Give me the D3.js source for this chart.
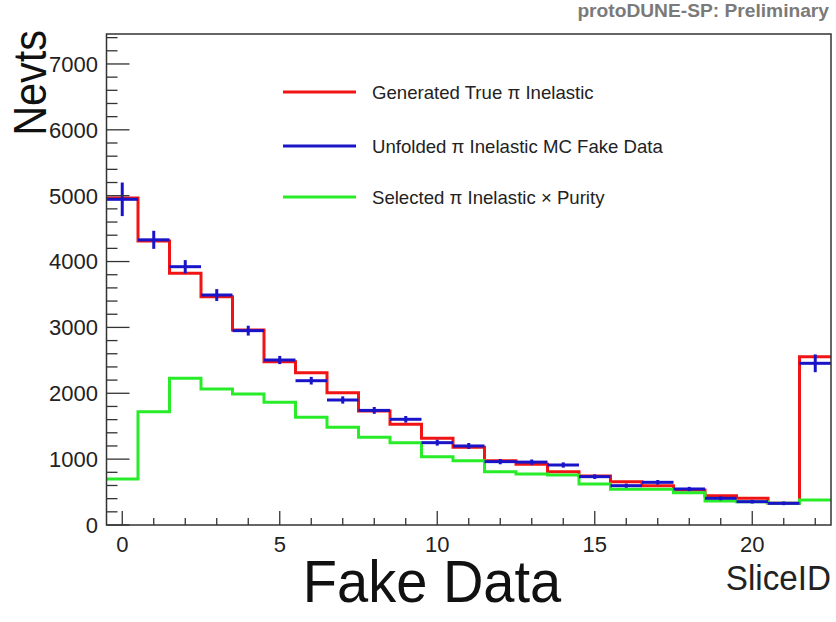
<!DOCTYPE html>
<meta charset="utf-8">
<script src="https://d3js.org/d3.v7.min.js"></script>
<style>
body { margin: 0; background: #fff; }
text { font-family: "Liberation Sans", Arial, Helvetica, sans-serif; }
</style>
<body>
<script>
// slice bins and histogram contents
var sliceID = [0, 1, 2, 3, 4, 5, 6, 7, 8, 9, 10, 11, 12, 13, 14, 15, 16, 17, 18, 19, 20, 21, 22];
var trueInel = [4965, 4312, 3822, 3467, 2961, 2480, 2313, 2009, 1731, 1529, 1316, 1180, 977, 922, 810, 744, 658, 597, 531, 445, 405, 329, 2556];
var unfolded = [4945, 4330, 3922, 3492, 2951, 2505, 2191, 1898, 1740, 1605, 1250, 1200, 962, 955, 911, 734, 597, 648, 547, 405, 354, 329, 2455];
var unfoldedErr = [255, 137, 100, 90, 75, 62, 58, 55, 52, 50, 45, 45, 40, 40, 40, 35, 32, 35, 32, 30, 28, 28, 135];
var selected = [698, 1721, 2227, 2065, 1989, 1863, 1635, 1483, 1331, 1250, 1037, 977, 809, 774, 759, 623, 542, 542, 491, 364, 354, 329, 380];

var legendLabels = ["Generated True \u03c0 Inelastic", "Unfolded \u03c0 Inelastic MC Fake Data", "Selected \u03c0 Inelastic \u00d7 Purity"];
var yTicks = [0, 1000, 2000, 3000, 4000, 5000, 6000, 7000];
var xTicks = [0, 5, 10, 15, 20];

var width = 836, height = 622;
var cRed = "#f01414", cBlue = "#1a14c8", cGreen = "#28ec28";

var svg = d3.select("body").append("svg")
    .attr("width", width)
    .attr("height", height);

var x = d3.scaleLinear().domain([-0.5, 22.5]).range([106.5, 831]);
var y = d3.scaleLinear().domain([0, 7455]).range([525, 34]);

// step outline for a histogram
function stepPath(vals) {
  var p = d3.path();
  vals.forEach(function(v, i) {
    var x0 = x(sliceID[i] - 0.5), x1 = x(sliceID[i] + 0.5);
    if (i == 0) p.moveTo(x0, y(v)); else p.lineTo(x0, y(v));
    p.lineTo(x1, y(v));
  });
  return p.toString();
}

svg.append("path").attr("d", stepPath(trueInel))
    .attr("fill", "none").attr("stroke", cRed).attr("stroke-width", 3);
svg.append("path").attr("d", stepPath(selected))
    .attr("fill", "none").attr("stroke", cGreen).attr("stroke-width", 3);

// unfolded points with error bars
var pts = svg.selectAll("g.pt").data(sliceID).enter().append("g").attr("class", "pt");
pts.append("line")
    .attr("x1", function(d) { return x(d - 0.5); })
    .attr("x2", function(d) { return x(d + 0.5); })
    .attr("y1", function(d, i) { return y(unfolded[i]); })
    .attr("y2", function(d, i) { return y(unfolded[i]); })
    .attr("stroke", cBlue).attr("stroke-width", 3);
pts.append("line")
    .attr("x1", function(d) { return x(d); })
    .attr("x2", function(d) { return x(d); })
    .attr("y1", function(d, i) { return y(unfolded[i] - unfoldedErr[i]); })
    .attr("y2", function(d, i) { return y(unfolded[i] + unfoldedErr[i]); })
    .attr("stroke", cBlue).attr("stroke-width", 3);

// frame
svg.append("rect")
    .attr("x", 106.5).attr("y", 34)
    .attr("width", 831 - 106.5).attr("height", 525 - 34)
    .attr("fill", "none").attr("stroke", "#333").attr("stroke-width", 1.5);

// y axis ticks (inside)
var yMinor = d3.range(0, 7455, 200);
svg.selectAll("line.ymin").data(yMinor).enter().append("line")
    .attr("x1", 106.5).attr("y1", function(d) { return y(d); })
    .attr("x2", function(d) { return 106.5 + (d % 1000 == 0 ? 23 : 11); })
    .attr("y2", function(d) { return y(d); })
    .attr("stroke", "#333").attr("stroke-width", 1.3);
svg.selectAll("text.ylab").data(yTicks).enter().append("text")
    .attr("x", 98).attr("y", function(d) { return y(d); })
    .attr("dy", "0.36em").attr("text-anchor", "end")
    .attr("font-size", 22).attr("fill", "#222")
    .text(function(d) { return d; });

// x axis ticks (inside)
svg.selectAll("line.xmin").data(sliceID).enter().append("line")
    .attr("x1", function(d) { return x(d); }).attr("y1", 525)
    .attr("x2", function(d) { return x(d); })
    .attr("y2", function(d) { return 525 - (d % 5 == 0 ? 14 : 7); })
    .attr("stroke", "#333").attr("stroke-width", 1.3);
svg.selectAll("text.xlab").data(xTicks).enter().append("text")
    .attr("x", function(d) { return x(d); }).attr("y", 552)
    .attr("text-anchor", "middle")
    .attr("font-size", 22).attr("fill", "#222")
    .text(function(d) { return d; });

// legend
var legY = [92, 146, 197];
var legCol = [cRed, cBlue, cGreen];
legendLabels.forEach(function(l, i) {
  svg.append("line").attr("x1", 283).attr("x2", 356)
      .attr("y1", legY[i]).attr("y2", legY[i])
      .attr("stroke", legCol[i]).attr("stroke-width", 3);
  svg.append("text").attr("x", 372).attr("y", legY[i]).attr("dy", "0.36em")
      .attr("font-size", 18.6).attr("fill", "#222").text(l);
});

// titles
svg.append("text").attr("x", 829).attr("y", 17).attr("text-anchor", "end")
    .attr("font-size", 19.2).attr("font-weight", "bold").attr("fill", "#7a7a7a")
    .text("protoDUNE-SP: Preliminary");
svg.append("text").attr("transform", "translate(46,30) rotate(-90) scale(0.9,1)")
    .attr("text-anchor", "end").attr("font-size", 46).attr("fill", "#111")
    .text("Nevts");
svg.append("text").attr("transform", "translate(831,590) scale(0.95,1)")
    .attr("text-anchor", "end")
    .attr("font-size", 35).attr("fill", "#222").text("SliceID");
svg.append("text").attr("transform", "translate(432,602) scale(0.95,1)")
    .attr("text-anchor", "middle")
    .attr("font-size", 59).attr("fill", "#111").text("Fake Data");
</script>
</body>
